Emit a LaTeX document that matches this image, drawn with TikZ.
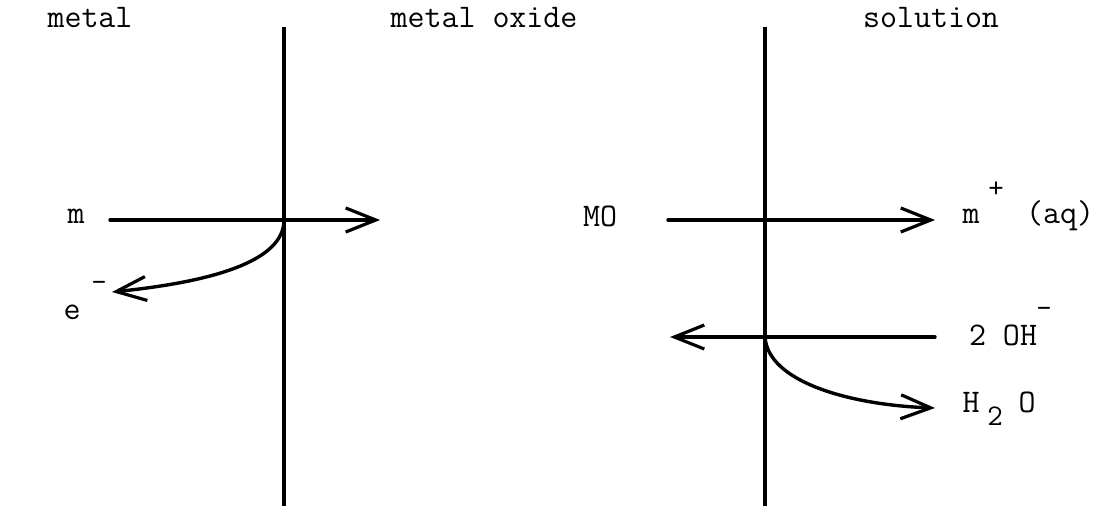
\documentclass[tikz,border=0pt]{standalone}
\usetikzlibrary{arrows.meta}
\begin{document}
\begin{tikzpicture}[x=1pt,y=-1pt,
  lbl/.style={font=\ttfamily\fontsize{33}{35}\selectfont, inner sep=0pt},
  sml/.style={font=\ttfamily\fontsize{30}{32}\selectfont, inner sep=0pt},
  wall/.style={line width=3.4pt},
  flow/.style={line width=3.4pt, line cap=round, -{Straight Barb[length=30pt,width=24pt,line width=3.2pt]}}]
\useasboundingbox (0,0) rectangle (1094,508);
% interfaces
\coordinate (w1t) at (284,27);
\coordinate (w1b) at (284,506);
\coordinate (w2t) at (765,27);
\coordinate (w2b) at (765,506);
\draw[wall] (w1t) -- (w1b);
\draw[wall] (w2t) -- (w2b);
% headings
\node[lbl] (hmetal) at (90,18) {metal};
\node[lbl] (hoxide) at (484,18) {metal oxide};
\node[lbl] (hsol) at (931,18) {solution};
% species
\node[lbl] (m) at (76,216) {m};
\node[lbl] (e) at (72,312) {e};
\node[sml] (eminus) at (99,286) {-};
\node[lbl] (mo) at (600,216) {MO};
\node[lbl] (mplus) at (971,216) {m};
\node[sml] (plus) at (996,190) {+};
\node[lbl] (aq) at (1060,216) {(aq)};
\node[lbl] (oh) at (1003,335) {2 OH};
\node[sml] (ohminus) at (1044,312) {-};
\node[lbl] (h) at (971,402) {H};
\node[sml] (two) at (995,416) {2};
\node[lbl] (o) at (1027,402) {O};
% arrows
\coordinate (a1s) at (110,220);
\coordinate (a1e) at (380,220);
\coordinate (x1) at (284,220);
\coordinate (c1e) at (112,292);
\coordinate (a2s) at (668,220);
\coordinate (a2e) at (935,220);
\coordinate (a3s) at (935,337);
\coordinate (a3e) at (670,337);
\coordinate (x2) at (765,337);
\coordinate (c2e) at (935,408);
\draw[flow] (a1s) -- (a1e);
\draw[flow] (x1) .. controls (284,262) and (210,282) .. (c1e);
\draw[flow] (a2s) -- (a2e);
\draw[flow] (a3s) -- (a3e);
\draw[flow] (x2) .. controls (768,382) and (850,405) .. (c2e);
\end{tikzpicture}
\end{document}
